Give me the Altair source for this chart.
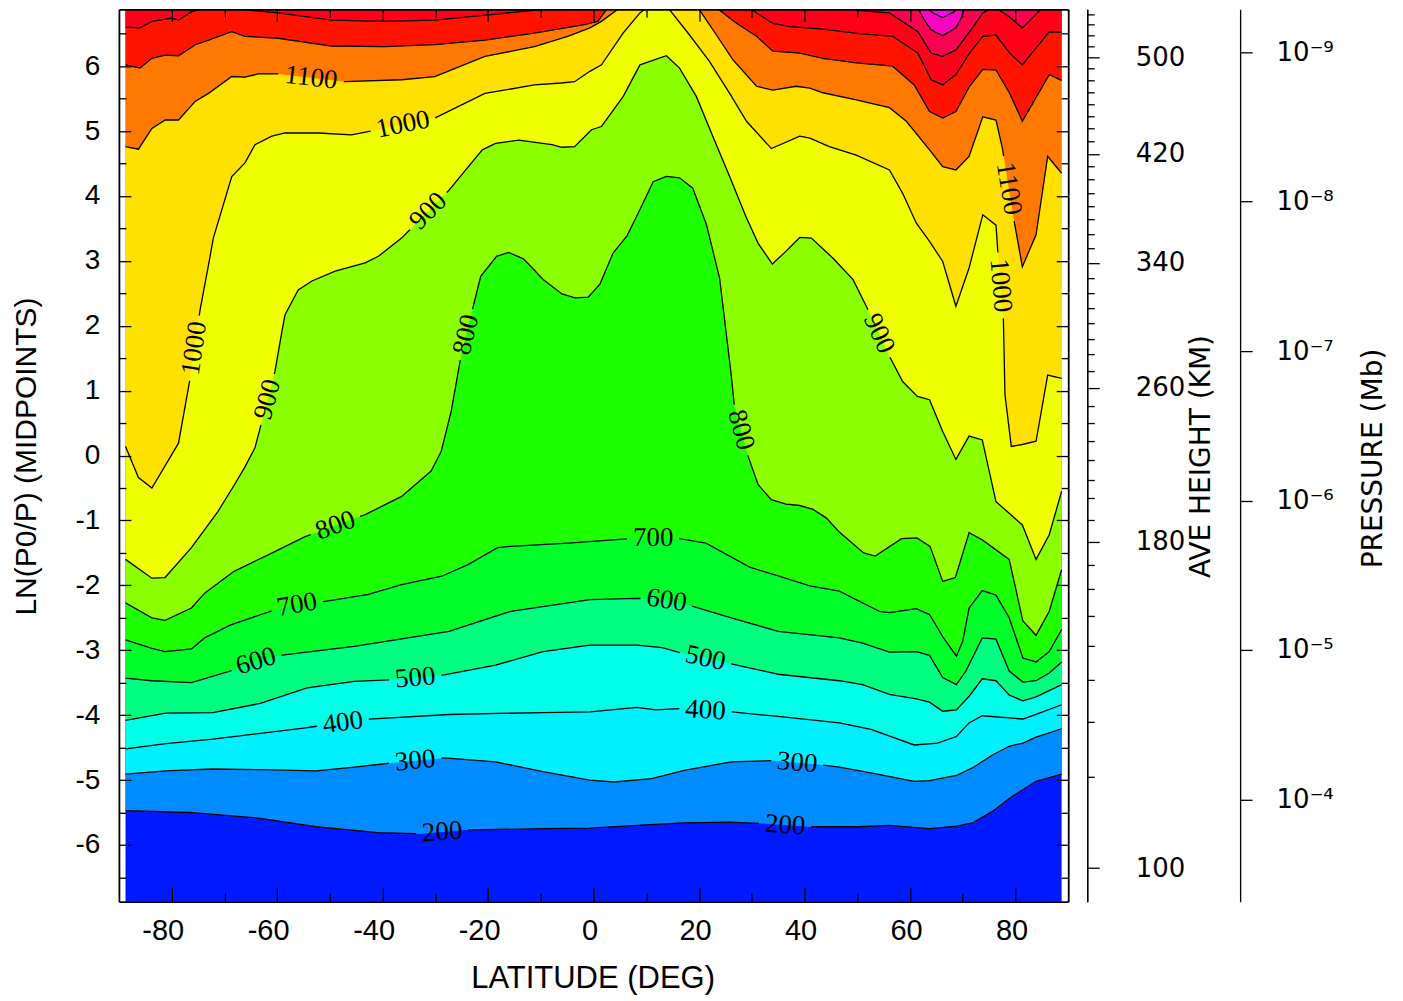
import math
import altair as alt
import pandas as pd

# ---------------- contour lines (latitude deg, ln(P0/P)) ----------------
LAT_200 = [-88.75, -76.6, -63.2, -52.6, -40.9, -32.9, -24.4, -9.6, -0.7, 8.2, 17.1, 25.8, 31.9, 40.8, 50.1, 56.1, 63.7, 68.8, 71.9, 75.7, 79.4, 83.9, 88.75]
Z_200 = [-5.47, -5.50, -5.59, -5.72, -5.81, -5.83, -5.77, -5.75, -5.74, -5.70, -5.66, -5.65, -5.67, -5.72, -5.72, -5.70, -5.75, -5.71, -5.66, -5.48, -5.25, -5.02, -4.91]

LAT_300 = [-88.75, -81.1, -72.2, -63.2, -52.6, -45.4, -38.6, -28.3, -18.6, -9.6, -0.7, 3.8, 11.0, 17.2, 26.1, 34.0, 43.5, 46.6, 52.6, 60.8, 63.7, 68.8, 71.9, 75.7, 78.8, 81.4, 83.9, 88.75]
Z_300 = [-4.91, -4.86, -4.83, -4.84, -4.86, -4.80, -4.74, -4.66, -4.72, -4.87, -5.00, -5.03, -4.98, -4.85, -4.72, -4.70, -4.77, -4.80, -4.89, -5.02, -5.01, -4.93, -4.81, -4.61, -4.48, -4.43, -4.34, -4.21]

LAT_400 = [-88.75, -81.1, -72.2, -63.2, -55.0, -42.6, -27.4, -9.6, -0.7, 8.2, 11.8, 16.5, 26.1, 35.0, 46.6, 52.6, 60.8, 65.2, 68.8, 71.2, 73.7, 78.2, 81.4, 83.9, 88.75]
Z_400 = [-4.52, -4.44, -4.37, -4.28, -4.20, -4.06, -3.99, -3.96, -3.95, -3.88, -3.92, -3.90, -3.95, -4.02, -4.12, -4.22, -4.46, -4.43, -4.33, -4.12, -4.01, -4.04, -4.06, -3.99, -3.84]

LAT_500 = [-88.75, -81.1, -72.2, -63.2, -54.3, -45.4, -36.8, -28.3, -18.6, -9.6, -0.7, 8.2, 13.0, 17.0, 26.1, 35.0, 46.6, 51.0, 56.1, 61.2, 63.7, 66.2, 68.8, 71.2, 73.7, 76.3, 78.8, 81.4, 83.9, 88.75]
Z_500 = [-4.08, -3.97, -3.96, -3.82, -3.58, -3.48, -3.45, -3.38, -3.23, -3.02, -2.92, -2.92, -2.96, -3.05, -3.21, -3.37, -3.47, -3.53, -3.68, -3.75, -3.80, -3.94, -3.92, -3.71, -3.44, -3.47, -3.69, -3.78, -3.72, -3.53]

LAT_600 = [-88.75, -83.75, -76.25, -68.8, -64.5, -58.7, -45.4, -27.4, -15.7, -0.7, 8.2, 13.3, 18.6, 26.1, 35.0, 46.6, 51.0, 56.1, 61.2, 63.7, 66.2, 68.8, 70.6, 73.7, 76.3, 78.8, 81.4, 83.9, 86.4, 88.75]
Z_600 = [-3.43, -3.47, -3.50, -3.32, -3.18, -3.07, -2.94, -2.71, -2.40, -2.22, -2.20, -2.22, -2.32, -2.50, -2.71, -2.81, -2.89, -3.03, -3.02, -3.08, -3.42, -3.53, -3.32, -2.81, -2.83, -3.32, -3.49, -3.47, -3.35, -3.18]

LAT_700 = [-88.75, -83.75, -81.25, -76.25, -73.75, -68.8, -61.3, -56.3, -51.2, -42.7, -36.4, -28.8, -23.8, -18.2, -15.7, -4.9, 6.9, 11.3, 16.2, 21.3, 29.6, 34.4, 41.0, 46.6, 54.2, 56.1, 61.2, 63.7, 66.2, 68.8, 70.0, 71.2, 73.7, 76.3, 78.8, 81.4, 83.9, 86.4, 88.75]
Z_700 = [-2.84, -2.97, -3.02, -2.98, -2.81, -2.61, -2.40, -2.30, -2.25, -2.14, -1.99, -1.86, -1.68, -1.42, -1.40, -1.35, -1.28, -1.27, -1.28, -1.35, -1.72, -1.84, -2.01, -2.09, -2.40, -2.42, -2.36, -2.45, -2.79, -3.09, -2.86, -2.35, -2.08, -2.15, -2.50, -3.12, -3.18, -3.02, -2.68]

LAT_800 = [-88.75, -83.75, -81.25, -76.25, -73.75, -68.1, -61.7, -54.7, -43.3, -36.4, -30.8, -28.9, -27.0, -25.1, -22.9, -21.4, -18.4, -16.1, -13.3, -9.5, -6.0, -3.5, -1.0, 1.2, 3.7, 6.3, 8.8, 11.3, 13.8, 16.3, 18.8, 21.4, 23.9, 24.8, 26.1, 26.7, 29.3, 31.2, 33.7, 36.5, 39.1, 41.6, 44.1, 46.6, 51.2, 53.4, 58.4, 61.3, 63.8, 66.2, 68.6, 71.2, 73.7, 78.8, 81.4, 83.9, 86.4, 88.75]
Z_800 = [-2.27, -2.50, -2.54, -2.35, -2.12, -1.78, -1.53, -1.25, -0.91, -0.63, -0.24, 0.06, 0.68, 1.55, 2.27, 2.76, 3.07, 3.13, 3.03, 2.71, 2.49, 2.43, 2.44, 2.64, 3.12, 3.38, 3.79, 4.22, 4.30, 4.28, 4.12, 3.56, 2.73, 2.12, 1.24, 0.76, -0.01, -0.45, -0.68, -0.75, -0.77, -0.83, -0.96, -1.18, -1.50, -1.55, -1.28, -1.27, -1.40, -1.94, -1.88, -1.19, -1.30, -1.60, -2.55, -2.77, -2.40, -1.76]

LAT_900 = [-88.75, -83.75, -81.25, -76.25, -71.2, -68.1, -66.2, -64.2, -60.4, -59.1, -58.5, -56.0, -53.4, -49.0, -43.3, -40.8, -36.4, -27.4, -21.1, -18.6, -14.2, -7.9, -6.0, -3.6, -0.4, 1.5, 5.6, 8.8, 13.8, 16.3, 19.5, 22.6, 25.8, 28.9, 31.2, 33.9, 36.5, 39.1, 41.3, 45.4, 49.2, 51.9, 56.1, 58.6, 61.4, 63.7, 66.2, 68.7, 71.2, 73.7, 76.3, 78.8, 81.3, 83.9, 86.4, 88.75]
Z_900 = [-1.60, -1.89, -1.88, -1.42, -0.86, -0.45, -0.19, 0.12, 1.30, 1.91, 2.17, 2.55, 2.69, 2.84, 2.97, 3.07, 3.35, 4.09, 4.71, 4.81, 4.86, 4.79, 4.75, 4.76, 5.02, 5.07, 5.53, 6.02, 6.16, 5.97, 5.53, 4.92, 4.30, 3.68, 3.27, 2.95, 3.15, 3.36, 3.35, 3.04, 2.71, 2.27, 1.53, 1.14, 0.91, 0.86, 0.37, -0.06, 0.30, 0.24, -0.71, -0.89, -1.07, -1.60, -1.22, -0.55]

LAT_1000 = [-88.75, -86.3, -83.75, -78.7, -76.5, -74.6, -73.0, -72.1, -68.6, -66.1, -64.2, -61.0, -58.5, -52.2, -45.9, -30.1, -20.6, -11.2, -6.1, -3.6, -0.7, 1.5, 5.6, 8.8, 10.0, 14.1, 18.2, 22.0, 25.8, 29.0, 33.7, 39.1, 41.0, 44.7, 49.8, 56.1, 58.6, 61.2, 63.7, 66.2, 68.7, 71.2, 73.8, 76.3, 76.6, 77.7, 78.0, 79.2, 81.3, 83.9, 86.1, 88.75]
Z_1000 = [0.14, -0.34, -0.50, 0.19, 1.19, 2.25, 2.94, 3.35, 4.30, 4.51, 4.79, 4.92, 4.97, 4.97, 4.94, 5.20, 5.58, 5.71, 5.74, 5.76, 5.92, 6.02, 6.51, 6.82, 6.9, 6.9, 6.48, 6.07, 5.58, 5.15, 4.73, 4.92, 4.89, 4.76, 4.63, 4.40, 4.04, 3.58, 3.30, 2.99, 2.30, 2.89, 3.71, 3.55, 3.20, 2.12, 0.94, 0.14, 0.17, 0.22, 1.24, 1.19]

LAT_1100 = [-88.75, -86.3, -83.75, -81.2, -78.7, -75.5, -73.0, -68.6, -66.1, -63.6, -59.8, -47.1, -36.4, -30.1, -20.6, -11.2, -4.9, -0.7, 1.5, 5.0, 19.8, 23.3, 26.4, 30.9, 34.0, 38.4, 41.0, 43.5, 49.8, 56.1, 59.3, 63.7, 66.2, 68.7, 71.2, 73.8, 76.3, 77.5, 79.7, 81.3, 83.9, 86.1, 88.75]
Z_1100 = [4.76, 4.72, 5.04, 5.17, 5.17, 5.46, 5.58, 5.84, 5.83, 5.88, 5.88, 5.76, 5.79, 5.84, 6.15, 6.30, 6.46, 6.59, 6.69, 6.9, 6.9, 6.48, 6.10, 5.69, 5.63, 5.69, 5.66, 5.59, 5.48, 5.36, 5.15, 4.71, 4.45, 4.40, 4.61, 5.22, 5.17, 4.74, 3.63, 2.91, 3.40, 4.61, 4.35]

LAT_1200 = [-88.75, -86.0, -83.75, -81.2, -78.7, -75.5, -73.0, -68.6, -66.1, -59.8, -49.7, -39.6, -30.1, -20.6, -11.2, -1.7, 0.8, 2.7, 23.3, 27.1, 30.9, 34.0, 39.1, 43.5, 49.8, 56.7, 60.8, 63.7, 66.2, 68.7, 71.3, 73.8, 76.3, 78.9, 81.3, 86.4, 88.75]
Z_1200 = [6.02, 5.97, 6.12, 6.17, 6.16, 6.33, 6.40, 6.53, 6.46, 6.43, 6.31, 6.30, 6.33, 6.40, 6.51, 6.64, 6.69, 6.9, 6.9, 6.66, 6.46, 6.23, 6.20, 6.12, 6.05, 6.00, 5.71, 5.30, 5.20, 5.30, 5.69, 5.95, 5.94, 5.58, 5.15, 5.87, 5.78]

LAT_1300 = [-88.75, -86.0, -83.75, -80.0, -78.7, -76.2, -73.3, -69.9, -59.8, -49.7, -39.6, -30.1, -20.0, -9.9, -1.7, 29.6, 30.9, 34.0, 37.2, 43.5, 50.4, 56.7, 61.5, 64.0, 66.2, 68.7, 71.3, 73.8, 76.3, 78.9, 81.3, 86.4, 88.75]
Z_1300 = [6.60, 6.59, 6.69, 6.74, 6.71, 6.84, 6.9, 6.9, 6.82, 6.71, 6.69, 6.71, 6.79, 6.87, 6.9, 6.9, 6.82, 6.66, 6.61, 6.57, 6.50, 6.46, 6.20, 5.79, 5.71, 5.87, 6.20, 6.46, 6.48, 6.20, 6.02, 6.53, 6.52]

LAT_1400 = [47.6, 50.4, 56.1, 61.5, 64.0, 66.2, 68.7, 71.3, 73.8, 75.7, 76.3, 78.8, 81.3, 85.1]
Z_1400 = [6.9, 6.86, 6.82, 6.53, 6.20, 6.15, 6.25, 6.53, 6.82, 6.9, 6.9, 6.76, 6.59, 6.9]

LAT_1500 = [61.5, 62.7, 64.0, 66.2, 68.7, 69.7, 70.3]
Z_1500 = [6.9, 6.71, 6.56, 6.47, 6.59, 6.74, 6.9]

LAT_1600 = [63.3, 64.3, 66.2, 68.4, 69.0]
Z_1600 = [6.9, 6.82, 6.75, 6.84, 6.9]

LEVELS = [200, 300, 400, 500, 600, 700, 800, 900, 1000, 1100, 1200, 1300, 1400, 1500, 1600]
CONTOURS = {200: (LAT_200, Z_200), 300: (LAT_300, Z_300), 400: (LAT_400, Z_400),
            500: (LAT_500, Z_500), 600: (LAT_600, Z_600), 700: (LAT_700, Z_700),
            800: (LAT_800, Z_800), 900: (LAT_900, Z_900), 1000: (LAT_1000, Z_1000),
            1100: (LAT_1100, Z_1100), 1200: (LAT_1200, Z_1200), 1300: (LAT_1300, Z_1300),
            1400: (LAT_1400, Z_1400), 1500: (LAT_1500, Z_1500), 1600: (LAT_1600, Z_1600)}

BASE_COLOR = "#0019FF"
BAND_COLORS = {200: "#008CFF", 300: "#00F0FF", 400: "#00FFE6", 500: "#00FF80",
               600: "#00FF2A", 700: "#1EFF00", 800: "#8CFF00", 900: "#F0FF00",
               1000: "#FFE100", 1100: "#FF7800", 1200: "#FF1400", 1300: "#FF0018",
               1400: "#FF0050", 1500: "#FF00C0", 1600: "#FF00FF"}

# contour labels: level, latitude, ln(P0/P) of the label centre
LABEL_LEVEL = [200, 200, 300, 300, 400, 400, 500, 500, 600, 600, 700, 700,
               800, 800, 800, 900, 900, 900, 1000, 1000, 1000, 1100, 1100]
LABEL_LAT = [-28.7, 36.3, -33.8, 38.6, -47.5, 21.2, -33.8, 21.2, -63.8, 13.7, -56.2, 11.3,
             -48.8, -24.0, 27.8, -61.6, -31.0, 54.1, -75.4, -35.95, 76.9, -53.6, 78.5]
LABEL_Z = [-5.82, -5.72, -4.72, -4.73, -4.14, -3.96, -3.43, -3.13, -3.24, -2.28, -2.33, -1.29,
           -1.11, 1.86, 0.39, 0.86, 3.74, 1.88, 1.65, 5.02, 2.62, 5.79, 4.11]

# axes
LAT_MAJOR = [-80, -60, -40, -20, 0, 20, 40, 60, 80]
LAT_MINOR = [-70, -50, -30, -10, 10, 30, 50, 70]
Z_MAJOR = [-6, -5, -4, -3, -2, -1, 0, 1, 2, 3, 4, 5, 6]
Z_MINOR = [-6.5, -5.5, -4.5, -3.5, -2.5, -1.5, -0.5, 0.5, 1.5, 2.5, 3.5, 4.5, 5.5, 6.5]
HEIGHT_MAJOR = [100, 180, 260, 340, 420, 500]
HEIGHT_MAJOR_Z = [-6.356, -1.325, 1.043, 2.968, 4.647, 6.14]
HEIGHT_MINOR = [110, 120, 130, 140, 150, 160, 170, 190, 200, 210, 220, 230, 240, 250,
                270, 280, 290, 300, 310, 320, 330, 350, 360, 370, 380, 390, 400, 410,
                430, 440, 450, 460, 470, 480, 490, 510, 520, 530, 540]
HEIGHT_MINOR_Z = [-4.944, -4.097, -3.461, -2.926, -2.469, -2.053, -1.69, -0.996, -0.662, -0.37,
                  -0.062, 0.22, 0.504, 0.759, 1.298, 1.556, 1.787, 2.044, 2.275, 2.506, 2.737,
                  3.199, 3.404, 3.635, 3.84, 4.046, 4.251, 4.456, 4.842, 5.035, 5.226, 5.416,
                  5.604, 5.788, 5.965, 6.31, 6.475, 6.638, 6.798]
PRESSURE_EXP = [-9, -8, -7, -6, -5, -4]
P0_MB = 5e-7

# ---------------- layout ----------------
W, H = 950, 893
ZBOT, ZTOP = -6.875, 6.875
KX = W / 180.0
KZ = H / (ZTOP - ZBOT)
LABEL_FONT = "Liberation Serif"
LABEL_SIZE = 27
CHAR_W = 0.5 * LABEL_SIZE
GAP_PAD = 12

def to_px(la, z):
    return (la * KX, -z * KZ)

def cumulative(pts):
    c = [0.0]
    for (x0, y0), (x1, y1) in zip(pts[:-1], pts[1:]):
        c.append(c[-1] + math.hypot(x1 - x0, y1 - y0))
    return c

def point_at(pts, cum, s):
    s = max(0.0, min(cum[-1], s))
    for i in range(len(pts) - 1):
        if cum[i + 1] >= s:
            seg = cum[i + 1] - cum[i]
            t = 0.0 if seg == 0 else (s - cum[i]) / seg
            return (pts[i][0] + t * (pts[i + 1][0] - pts[i][0]),
                    pts[i][1] + t * (pts[i + 1][1] - pts[i][1]))
    return pts[-1]

def project(pts, cum, p):
    best = None
    for i in range(len(pts) - 1):
        (x0, y0), (x1, y1) = pts[i], pts[i + 1]
        dx, dy = x1 - x0, y1 - y0
        l2 = dx * dx + dy * dy
        t = 0.0 if l2 == 0 else max(0.0, min(1.0, ((p[0] - x0) * dx + (p[1] - y0) * dy) / l2))
        d = math.hypot(p[0] - (x0 + t * dx), p[1] - (y0 + t * dy))
        if best is None or d < best[0]:
            best = (d, cum[i] + t * (cum[i + 1] - cum[i]))
    return best[1]

line_rows, label_rows = [], []
for lev in LEVELS:
    lats, zs = CONTOURS[lev]
    pts = [to_px(a, b) for a, b in zip(lats, zs)]
    cum = cumulative(pts)
    gaps = []
    for l, la, z in zip(LABEL_LEVEL, LABEL_LAT, LABEL_Z):
        if l != lev:
            continue
        txt = str(l)
        s0 = project(pts, cum, to_px(la, z))
        half = (len(txt) * CHAR_W + GAP_PAD) / 2.0
        A = point_at(pts, cum, s0 - half)
        B = point_at(pts, cum, s0 + half)
        ang = math.degrees(math.atan2(B[1] - A[1], B[0] - A[0]))
        if ang < 0:
            ang += 360.0
        C = point_at(pts, cum, s0)
        label_rows.append({"lat": C[0] / KX, "z": -C[1] / KZ, "text": txt, "angle": ang})
        gaps.append((s0 - half, s0 + half))
    gaps.sort()
    bounds, start = [], 0.0
    for a, b in gaps:
        bounds.append((start, a))
        start = b
    bounds.append((start, cum[-1]))
    for k, (sa, sb) in enumerate(bounds):
        if sb <= sa:
            continue
        seg = [point_at(pts, cum, sa)] + [p for p, c in zip(pts, cum) if sa < c < sb] + [point_at(pts, cum, sb)]
        for j, (x, y) in enumerate(seg):
            line_rows.append({"seg": f"{lev}-{k}", "ord": j, "lat": x / KX, "z": -y / KZ})

XS = alt.Scale(domain=[-90, 90], nice=False, zero=False)
YS = alt.Scale(domain=[ZBOT, ZTOP], nice=False, zero=False)

layers = []
base_df = pd.DataFrame({"lat": [LAT_200[0], LAT_200[-1]], "z": [ZBOT, ZBOT], "top": [ZTOP, ZTOP]})
layers.append(alt.Chart(base_df).mark_area(color=BASE_COLOR, clip=True).encode(
    x=alt.X("lat:Q", scale=XS, axis=None), y=alt.Y("z:Q", scale=YS, axis=None), y2="top:Q"))
for lev in LEVELS:
    lats, zs = CONTOURS[lev]
    df = pd.DataFrame({"lat": lats, "z": zs, "top": [ZTOP] * len(lats)})
    layers.append(alt.Chart(df).mark_area(color=BAND_COLORS[lev], clip=True).encode(
        x=alt.X("lat:Q", scale=XS, axis=None), y=alt.Y("z:Q", scale=YS, axis=None), y2="top:Q"))

layers.append(alt.Chart(pd.DataFrame(line_rows)).mark_line(color="black", strokeWidth=1.3, clip=True).encode(
    x=alt.X("lat:Q", scale=XS, axis=None), y=alt.Y("z:Q", scale=YS, axis=None),
    detail="seg:N", order="ord:Q"))

layers.append(alt.Chart(pd.DataFrame(label_rows)).mark_text(
    font=LABEL_FONT, fontSize=LABEL_SIZE, color="black", align="center", baseline="middle").encode(
    x=alt.X("lat:Q", scale=XS, axis=None), y=alt.Y("z:Q", scale=YS, axis=None),
    text="text:N", angle=alt.Angle("angle:Q", scale=None)))

# ---------------- axes ----------------
SUP = {"-": "\u207b", "0": "\u2070", "1": "\u00b9", "2": "\u00b2", "3": "\u00b3", "4": "\u2074",
       "5": "\u2075", "6": "\u2076", "7": "\u2077", "8": "\u2078", "9": "\u2079"}
P_Z = [math.log(P0_MB / (10.0 ** e)) for e in PRESSURE_EXP]
P_TXT = ["10" + "".join(SUP[c] for c in str(e)) for e in PRESSURE_EXP]

def lookup_expr(texts, vals):
    t = ",".join("'" + s + "'" for s in texts)
    v = ",".join(repr(x) for x in vals)
    return f"[{t}][indexof([{v}], datum.value)]"

COMMON = dict(grid=False, domainColor="black", tickColor="black", labelColor="black",
              titleColor="black", zindex=1, labelFlush=False, labelOverlap=False)
SANS = "Liberation Sans"
THIN = "DejaVu Sans ExtraLight, DejaVu Sans"

def tick_axis(orient, values, size, offset):
    return alt.Axis(orient=orient, values=values, tickSize=size, tickWidth=1.3, offset=offset,
                    domain=False, labels=False, title=None, **COMMON)

def frame_axis(orient):
    return alt.Axis(orient=orient, values=[], ticks=False, labels=False, domain=True,
                    domainWidth=1.8, offset=0, title=None, **COMMON)

x_axes = [
    alt.Axis(orient="bottom", values=LAT_MAJOR, ticks=False, domain=True, domainWidth=1.8, offset=0,
             labelExpr="toString(datum.value)", labelFont=SANS, labelFontSize=29, labelPadding=29,
             labelOffset={"condition": {"test": "datum.value < 0", "value": -9}, "value": -4},
             labelBaseline="middle", title="LATITUDE (DEG)", titleFont=SANS, titleFontSize=31,
             titleFontWeight="normal", titleX=474, titleY=77, titleBaseline="middle",
             titleAlign="center", **COMMON),
    tick_axis("bottom", LAT_MAJOR, 14, -14),
    tick_axis("bottom", LAT_MINOR, 9, -9),
    frame_axis("top"),
    tick_axis("top", LAT_MAJOR, 12, -12),
    tick_axis("top", LAT_MINOR, 8, -8),
]
y_axes = [
    alt.Axis(orient="left", values=Z_MAJOR, ticks=False, domain=True, domainWidth=1.8, offset=0,
             labelExpr="toString(datum.value)", labelFont=SANS, labelFontSize=28, labelPadding=19,
             labelBaseline="middle", title="LN(P0/P) (MIDPOINTS)", titleFont=SANS, titleFontSize=30,
             titleFontWeight="normal", titleAngle=270, titleX=-92, titleY=447,
             titleBaseline="middle", titleAlign="center", **COMMON),
    tick_axis("left", Z_MAJOR, 12, -12),
    tick_axis("left", Z_MINOR, 7, -7),
    frame_axis("right"),
    tick_axis("right", Z_MAJOR, 12, -12),
    tick_axis("right", Z_MINOR, 7, -7),
    alt.Axis(orient="right", values=HEIGHT_MAJOR_Z, tickSize=12, tickWidth=1.3, offset=19,
             domain=True, domainWidth=1.3, labelExpr=lookup_expr([str(h) for h in HEIGHT_MAJOR], HEIGHT_MAJOR_Z),
             labelFont=THIN, labelFontSize=26, labelPadding=36, labelBaseline="middle",
             title="AVE HEIGHT (KM)", titleFont=THIN, titleFontSize=28, titleFontWeight="normal",
             titleAngle=270, titleX=114, titleY=447, titleBaseline="middle", titleAlign="center",
             **COMMON),
    alt.Axis(orient="right", values=HEIGHT_MINOR_Z, tickSize=7, tickWidth=1.3, offset=19,
             domain=True, domainWidth=1.3, labels=False, title=None, **COMMON),
    alt.Axis(orient="right", values=P_Z, tickSize=12, tickWidth=1.3, offset=172,
             domain=True, domainWidth=1.3, labelExpr=lookup_expr(P_TXT, P_Z),
             labelFont=THIN, labelFontSize=26, labelPadding=24, labelBaseline="middle",
             title="PRESSURE (Mb)", titleFont=THIN, titleFontSize=28, titleFontWeight="normal",
             titleAngle=270, titleX=133, titleY=449, titleBaseline="middle", titleAlign="center",
             **COMMON),
]

anchor = pd.DataFrame({"lat": [0.0], "z": [0.0]})
n = max(len(x_axes), len(y_axes))
for i in range(n):
    xa = x_axes[i] if i < len(x_axes) else None
    ya = y_axes[i] if i < len(y_axes) else None
    layers.append(alt.Chart(anchor).mark_point(opacity=0, size=1).encode(
        x=alt.X("lat:Q", scale=XS, axis=xa), y=alt.Y("z:Q", scale=YS, axis=ya)))

chart = alt.layer(*layers).resolve_axis(x="independent", y="independent").properties(
    width=W, height=H, background="white",
    autosize=alt.AutoSizeParams(type="none"),
    padding={"left": 111, "top": 1, "right": 327, "bottom": 94},
).configure_view(strokeWidth=0)

chart.save("out.html", embed_options={"renderer": "svg", "actions": False})
